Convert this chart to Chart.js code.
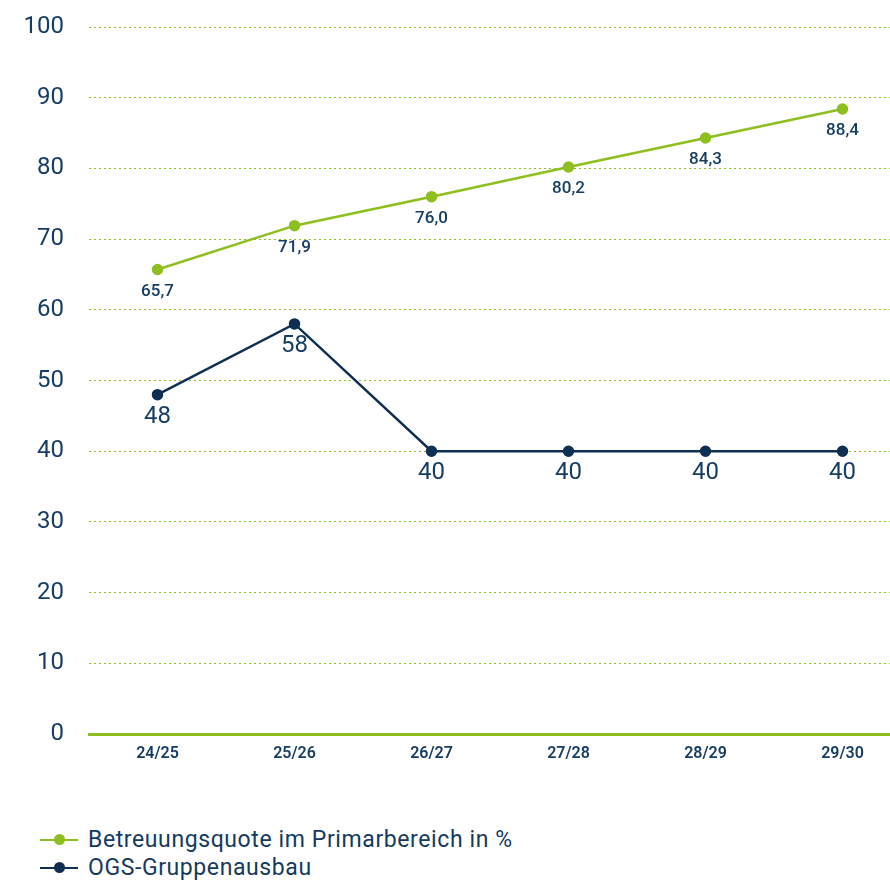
<!DOCTYPE html>
<html lang="de">
<head>
  <meta charset="UTF-8" />
  <title>Betreuungsquote und OGS-Gruppenausbau</title>
  <style>
    html, body {
      margin: 0;
      padding: 0;
      background: #fff;
      overflow: hidden;
      width: 890px;
      height: 883px;
      font-family: Roboto, "Noto Sans", sans-serif;
      color: #143a60;
    }
    #wrap {
      position: absolute;
      left: 0;
      top: 0;
      width: 918px;
      height: 790px;
    }
    .legend {
      position: absolute;
      left: 40px;
      top: 826px;
      font-size: 23px;
      line-height: 28px;
      letter-spacing: 0.6px;
    }
    .legend-item {
      display: flex;
      align-items: center;
    }
    .swatch {
      position: relative;
      width: 38px;
      height: 2px;
      margin-right: 10px;
    }
    .swatch::after {
      content: '';
      position: absolute;
      left: 14px;
      top: -5px;
      width: 11px;
      height: 11px;
      border-radius: 50%;
      background: inherit;
    }
  </style>
</head>
<body>
  <div id="wrap"><canvas id="chart" width="918" height="790"></canvas></div>
  <div class="legend">
    <div class="legend-item"><span class="swatch" style="background:#8dbf1f"></span>Betreuungsquote im Primarbereich in %</div>
    <div class="legend-item"><span class="swatch" style="background:#0f2f52"></span>OGS-Gruppenausbau</div>
  </div>

  <script src="https://cdn.jsdelivr.net/npm/chart.js"></script>
  <script>
    const years = ['24/25', '25/26', '26/27', '27/28', '28/29', '29/30'];
    const betreuungsquote = [65.7, 71.9, 76.0, 80.2, 84.3, 88.4];
    const ogsGruppen = [48, 58, 40, 40, 40, 40];
    const yTicks = [0, 10, 20, 30, 40, 50, 60, 70, 80, 90, 100];

    const GREEN = '#8dbf1f';
    const NAVY = '#0f2f52';
    const TEXT = '#163d63';

    // Werte unter die Punkte schreiben
    const pointLabels = {
      id: 'pointLabels',
      afterDatasetsDraw(chart) {
        const ctx = chart.ctx;
        ctx.save();
        ctx.textAlign = 'center';
        ctx.textBaseline = 'middle';
        ctx.fillStyle = TEXT;
        chart.data.datasets.forEach((ds, di) => {
          const meta = chart.getDatasetMeta(di);
          ctx.font = ds.labelFont;
          meta.data.forEach((pt, i) => {
            const v = ds.data[i];
            const txt = ds.decimals ? v.toFixed(1).replace('.', ',') : String(v);
            ctx.fillText(txt, pt.x, pt.y + ds.labelOffset);
          });
        });
        ctx.restore();
      }
    };

    new Chart(document.getElementById('chart').getContext('2d'), {
      type: 'line',
      data: {
        labels: years,
        datasets: [
          {
            label: 'Betreuungsquote im Primarbereich in %',
            data: betreuungsquote,
            borderColor: GREEN,
            backgroundColor: GREEN,
            borderWidth: 2.5,
            pointRadius: 4.5,
            pointHoverRadius: 4.5,
            tension: 0,
            labelFont: '500 17px Roboto, sans-serif',
            labelOffset: 22,
            decimals: true
          },
          {
            label: 'OGS-Gruppenausbau',
            data: ogsGruppen,
            borderColor: NAVY,
            backgroundColor: NAVY,
            borderWidth: 2.5,
            pointRadius: 4.5,
            pointHoverRadius: 4.5,
            tension: 0,
            labelFont: '24px Roboto, sans-serif',
            labelOffset: 22,
            decimals: false
          }
        ]
      },
      plugins: [pointLabels],
      options: {
        responsive: false,
        animation: false,
        layout: { padding: { top: 27, right: 0, left: 0, bottom: 0 } },
        plugins: {
          legend: { display: false },
          tooltip: { enabled: false }
        },
        scales: {
          x: {
            offset: true,
            grid: { display: false, drawTicks: false },
            border: { display: true, color: GREEN, width: 3 },
            ticks: {
              color: TEXT,
              padding: 10,
              font: { family: 'Roboto', size: 16, weight: '600' }
            },
            afterFit(scale) {
              scale.height = 56;
              scale.paddingLeft = 0;
              scale.paddingRight = 0;
            }
          },
          y: {
            min: 0,
            max: 100,
            afterBuildTicks(scale) {
              scale.ticks = yTicks.map(v => ({ value: v }));
            },
            grid: {
              color: ctx => ctx.tick.value === 0 ? 'rgba(0,0,0,0)' : GREEN,
              lineWidth: 1,
              drawTicks: false
            },
            border: { display: false, dash: [2, 3] },
            ticks: {
              color: TEXT,
              padding: 25,
              font: { family: 'Roboto', size: 24 }
            },
            afterFit(scale) {
              scale.width = 89;
              scale.paddingTop = 0;
              scale.paddingBottom = 0;
            }
          }
        }
      }
    });
  </script>
</body>
</html>
